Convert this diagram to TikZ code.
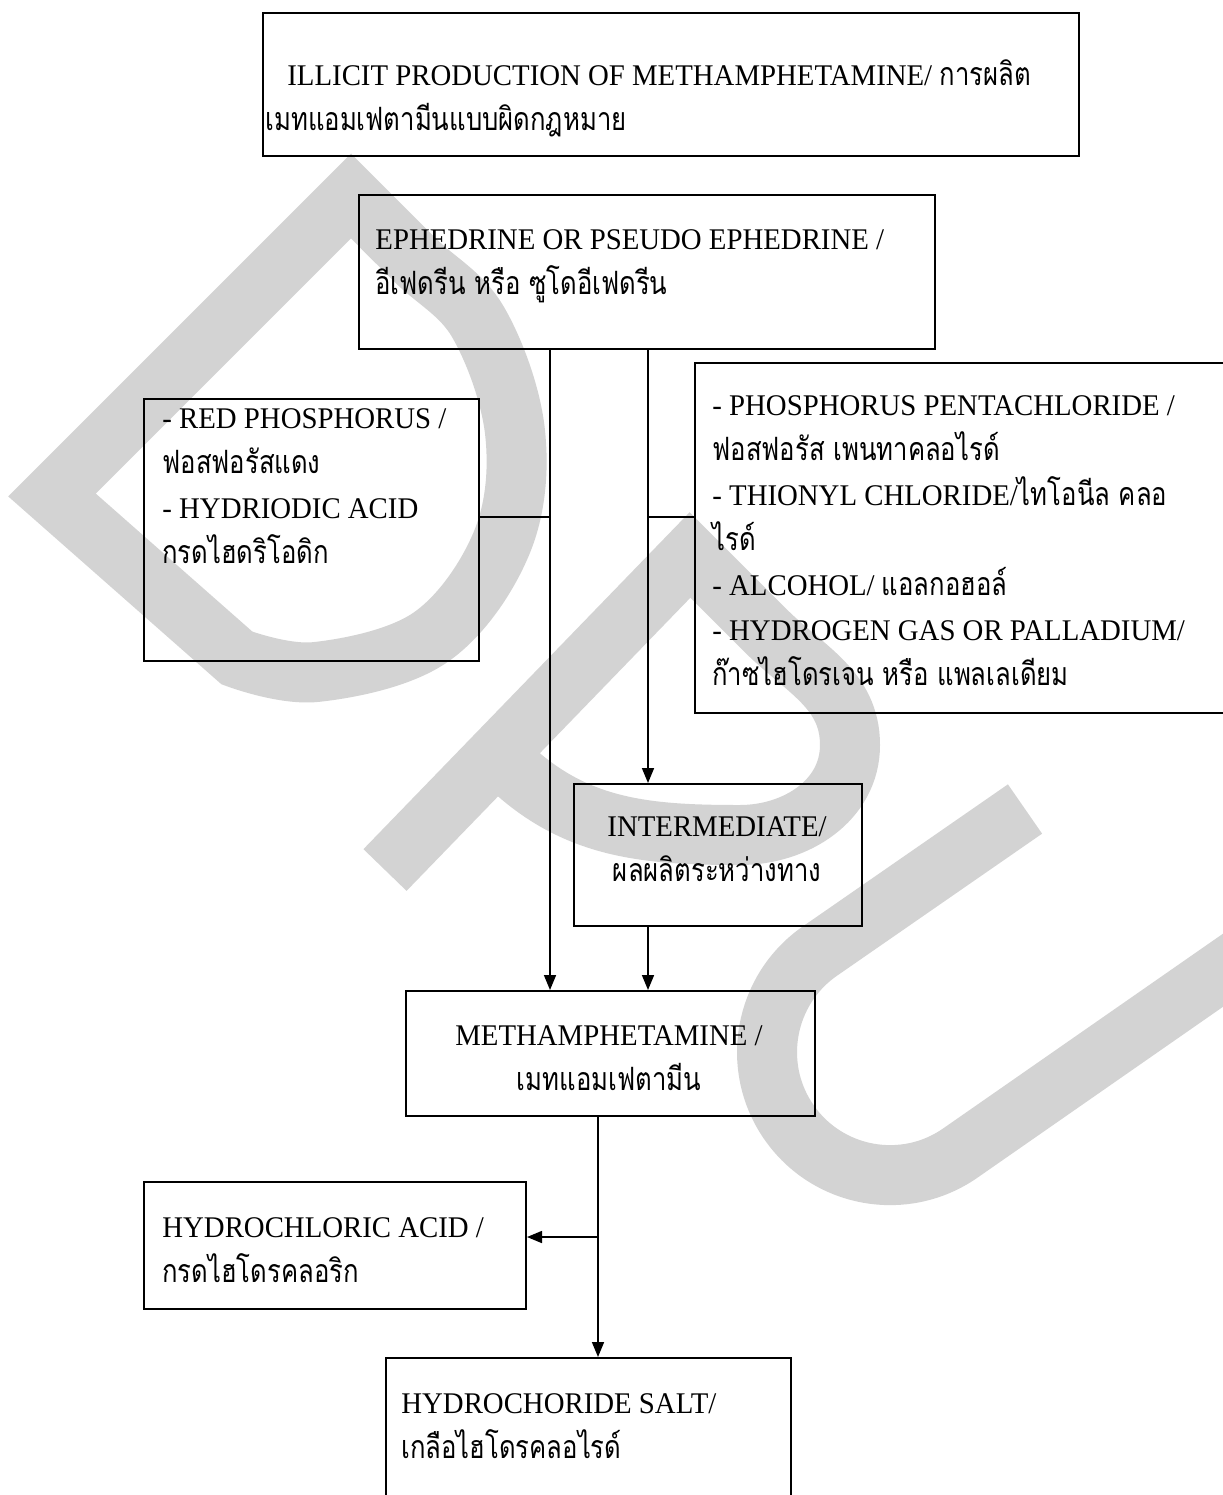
\documentclass[tikz,border=0pt]{standalone}
\usepackage{fontspec}
\setmainfont{Liberation Serif}[FakeStretch=0.96]
\newfontfamily\thai[Script=Thai,FakeStretch=0.8,Scale=1.07]{Loma}
\usetikzlibrary{arrows.meta}

\definecolor{wmark}{RGB}{211,211,211}

\begin{document}
\begin{tikzpicture}[x=0.5pt,y=0.5pt]
        % Define styles for boxes, labels and connectors
        \tikzset{
            box/.style={draw, line width=1pt, inner sep=0pt, anchor=north west},
            txt/.style={anchor=west, align=left, inner sep=0pt, font=\fontsize{15pt}{22.5pt}\selectfont},
            link/.style={line width=0.8pt},
            arr/.style={line width=0.8pt, -{Triangle[length=7.5pt,width=6pt]}},
            wm/.style={draw=wmark, line width=30pt, line join=miter}
        }
        \useasboundingbox (0,0) rectangle (1222,-1495);

        % Watermark letters D, P, U
        \draw[wm] (52,-495) -- (351,-196) -- plot[smooth, tension=0.6] coordinates {(351,-196) (415,-260)
            (478,-322) (515,-432) (502,-542) (431,-637) (316,-672) (237,-658)} -- cycle;
        \draw[wm] (385,-870) -- (690,-555) -- (765,-630) to[out=-45,in=90] (850,-745)
            to[out=-90,in=0] (740,-835) to[out=180,in=-45] (503,-760);
        \draw[wm] (1025,-809) -- (820,-951) arc[start angle=124.7, end angle=304.7, radius=123] -- (1288,-925);

        % Boxes
        \node[box, minimum width=408pt, minimum height=71.5pt] (title) at (262,-12) {};
        \node[box, minimum width=288pt, minimum height=77pt] (eph) at (358,-194) {};
        \node[box, minimum width=167.5pt, minimum height=131pt] (red) at (143,-398) {};
        \node[box, minimum width=273pt, minimum height=175pt] (rgt) at (694,-362) {};
        \node[box, minimum width=144pt, minimum height=71pt] (mid) at (573,-783) {};
        \node[box, minimum width=204.5pt, minimum height=62.5pt] (meth) at (405,-990) {};
        \node[box, minimum width=191pt, minimum height=63.5pt] (hcl) at (143,-1181) {};
        \node[box, minimum width=202.5pt, minimum height=80pt] (salt) at (385,-1357) {};

        % Labels
        \node[txt] (titleT) at (265,-98) {\hspace*{11pt}ILLICIT PRODUCTION OF METHAMPHETAMINE/ {\thai การผลิต}\\
            {\thai เมทแอมเฟตามีนแบบผิดกฎหมาย}};
        \node[txt] (ephT) at (375,-266) {EPHEDRINE OR PSEUDO EPHEDRINE /\\
            {\thai อีเฟดรีน หรือ ซูโดอีเฟดรีน}};
        \node[txt] (redT) at (162,-486) {- RED PHOSPHORUS /\\{\thai ฟอสฟอรัสแดง}\\
            - HYDRIODIC ACID\\{\thai กรดไฮดริโอดิก}};
        \node[txt] (rgtT) at (712,-541) {- PHOSPHORUS PENTACHLORIDE /\\
            {\thai ฟอสฟอรัส เพนทาคลอไรด์}\\
            - THIONYL CHLORIDE/{\thai ไทโอนีล คลอ}\\
            {\thai ไรด์}\\
            - ALCOHOL/ {\thai แอลกอฮอล์}\\
            - HYDROGEN GAS OR PALLADIUM/\\
            {\thai ก๊าซไฮโดรเจน หรือ แพลเลเดียม}};
        \node[txt, anchor=center, align=center] (midT) at (717,-849) {INTERMEDIATE/\\{\thai ผลผลิตระหว่างทาง}};
        \node[txt, anchor=center, align=center] (methT) at (609,-1058) {METHAMPHETAMINE /\\{\thai เมทแอมเฟตามีน}};
        \node[txt] (hclT) at (162,-1250) {HYDROCHLORIC ACID /\\{\thai กรดไฮโดรคลอริก}};
        \node[txt] (saltT) at (401,-1426) {HYDROCHORIDE SALT/\\{\thai เกลือไฮโดรคลอไรด์}};

        % Connectors
        \coordinate (colA) at (550,0);
        \coordinate (colB) at (648,0);
        \coordinate (colC) at (598,0);
        \coordinate (rowJ) at (0,-517);
        \coordinate (rowH) at (0,-1237);
        \draw[arr] (eph.south -| colA) -- (meth.north -| colA);
        \draw[arr] (eph.south -| colB) -- (mid.north -| colB);
        \draw[link] (red.east |- rowJ) -- (rowJ -| colA);
        \draw[link] (rgt.west |- rowJ) -- (rowJ -| colB);
        \draw[arr] (mid.south -| colB) -- (meth.north -| colB);
        \draw[arr] (meth.south -| colC) -- (salt.north -| colC);
        \draw[arr] (rowH -| colC) -- (hcl.east |- rowH);

\end{tikzpicture}
\end{document}
